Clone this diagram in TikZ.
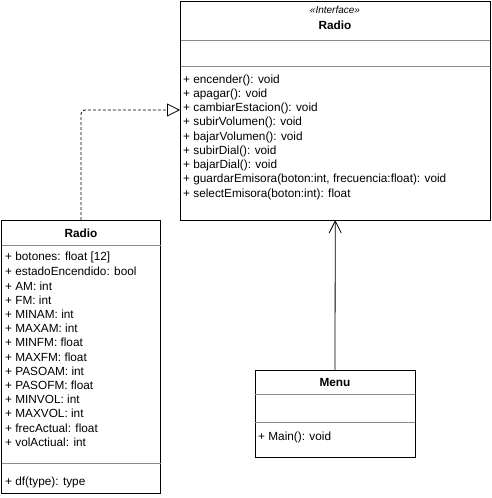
\documentclass[tikz,border=0pt]{standalone}
\usepackage{fontspec}
\setmainfont{Liberation Sans}
\usetikzlibrary{arrows.meta}
\tikzset{
  box/.style={draw=black, line width=0.9pt, fill=white, inner sep=0, outer sep=0},
  sep/.style={draw=black!45, line width=0.8pt},
  txt/.style={anchor=west, inner sep=0, font=\fontsize{11.8}{13}\selectfont},
  ttl/.style={anchor=center, inner sep=0, font=\fontsize{11.8}{13}\selectfont\bfseries},
}
\begin{document}
\begin{tikzpicture}[x=1pt,y=-1pt]
\useasboundingbox (0,0) rectangle (491,498);
% Interface box
\node[box, minimum width=309.5pt, minimum height=219pt] (iface) at (335.25,110.5) {};
\draw[sep] (180.5,40) -- (490,40);
\draw[sep] (180.5,66) -- (490,66);
\node[anchor=center, inner sep=0, font=\fontsize{10}{11}\selectfont\itshape] (st) at (335,10) {<<Interface>>};
\node[ttl] (ititle) at (335,25) {Radio};
\foreach \t [count=\i from 0] in {{+ encender(): void},{+ apagar(): void},{+ cambiarEstacion(): void},{+ subirVolumen(): void},{+ bajarVolumen(): void},{+ subirDial(): void},{+ bajarDial(): void},{+ guardarEmisora(boton:int, frecuencia:float): void},{+ selectEmisora(boton:int): float}}
  \node[txt] (m\i) at (183,{80+14.25*\i}) {\t};
% Radio class box
\node[box, minimum width=158.5pt, minimum height=273pt] (radio) at (81,356.5) {};
\draw[sep] (1.5,245) -- (160.5,245);
\draw[sep] (1.5,463.5) -- (160.5,463.5);
\node[ttl] (rtitle) at (81,233) {Radio};
\foreach \t [count=\i from 0] in {{+ botones: float [12]},{+ estadoEncendido: bool},{+ AM: int},{+ FM: int},{+ MINAM: int},{+ MAXAM: int},{+ MINFM: float},{+ MAXFM: float},{+ PASOAM: int},{+ PASOFM: float},{+ MINVOL: int},{+ MAXVOL: int},{+ frecActual: float},{+ volActiual: int}}
  \node[txt] (a\i) at (5,{257.5+14.2*\i}) {\t};
\node[txt] (df) at (5,482) {+ df(type): type};
% Menu box
\node[box, minimum width=160pt, minimum height=87pt] (menu) at (335,413.5) {};
\draw[sep] (255,394.5) -- (415,394.5);
\draw[sep] (255,422.5) -- (415,422.5);
\node[ttl] (mtitle) at (335,382) {Menu};
\node[txt] (mm) at (258,437) {+ Main(): void};
% connectors
\coordinate (ifin) at (180,110);
\draw[line width=0.8pt, dash pattern=on 3pt off 2pt, rounded corners=4pt, -{Triangle[open, length=13pt, width=13pt, fill=white]}] (radio.north) |- (ifin);
\draw[line width=0.8pt, -{Straight Barb[length=12pt, width=12pt]}] (menu.north) -- (iface.south);
\end{tikzpicture}
\end{document}
